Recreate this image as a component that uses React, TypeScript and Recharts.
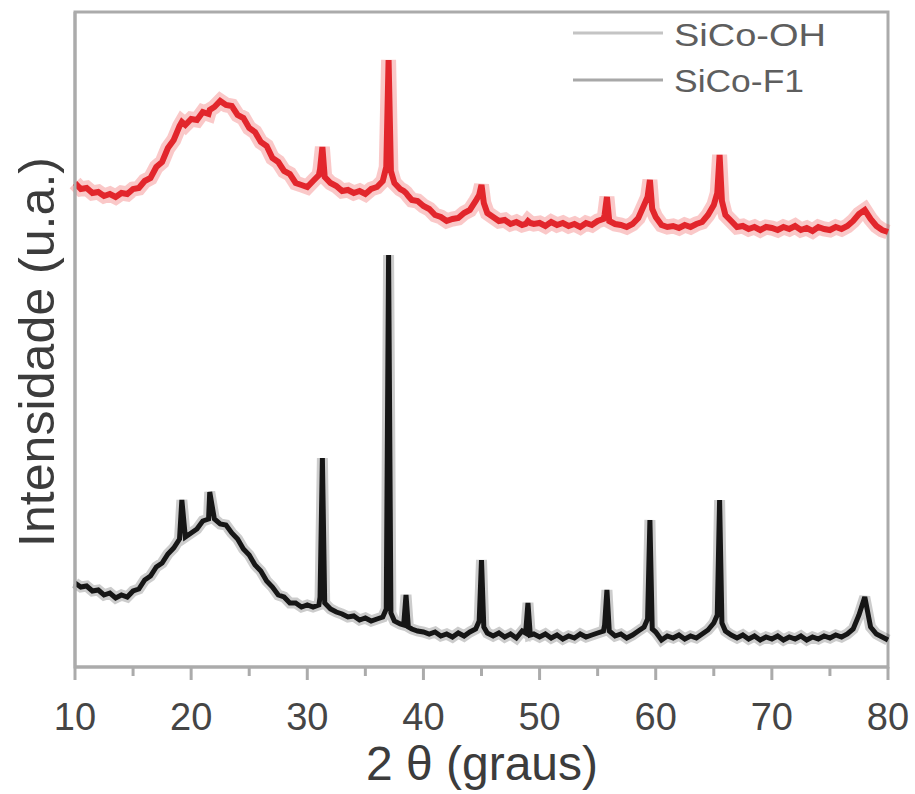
import { LineChart, Line, XAxis, YAxis, ReferenceArea } from 'recharts';

// 2θ positions (degrees)
const angles = [
  10, 10.5, 11, 11.5, 12, 12.5, 13, 13.5, 14, 14.5,
  15, 15.5, 16, 16.5, 17, 17.5, 18, 18.5, 19, 19.2,
  19.5, 20, 20.5, 21, 21.5, 21.6, 22, 22.5, 23, 23.5,
  24, 24.5, 25, 25.5, 26, 26.5, 27, 27.5, 28, 28.5,
  29, 29.5, 30, 30.5, 31, 31.1, 31.3, 31.5, 32, 32.5,
  33, 33.5, 34, 34.5, 35, 35.5, 36, 36.5, 36.8, 37,
  37.2, 37.5, 38, 38.3, 38.5, 38.7, 39, 39.5, 40, 40.5,
  41, 41.5, 42, 42.5, 43, 43.5, 44, 44.5, 44.8, 45,
  45.2, 45.5, 46, 46.5, 47, 47.5, 48, 48.5, 48.8, 49,
  49.2, 49.5, 50, 50.5, 51, 51.5, 52, 52.5, 53, 53.5,
  54, 54.5, 55, 55.5, 55.6, 55.8, 56, 56.5, 57, 57.5,
  58, 58.5, 59, 59.3, 59.5, 59.7, 60, 60.5, 61, 61.5,
  62, 62.5, 63, 63.5, 64, 64.5, 65, 65.3, 65.5, 65.7,
  66, 66.5, 67, 67.5, 68, 68.5, 69, 69.5, 70, 70.5,
  71, 71.5, 72, 72.5, 73, 73.5, 74, 74.5, 75, 75.5,
  76, 76.5, 77, 77.5, 78, 78.5, 79, 79.5, 80,
];

// SiCo-OH (red, offset trace)
const ohCounts = [
  484, 478, 479, 474, 475, 471, 473, 470, 474, 473,
  478, 479, 486, 489, 500, 505, 519, 527, 541, 545,
  542, 548, 547, 555, 553, 557, 560, 566, 562, 561,
  552, 549, 539, 535, 525, 521, 509, 505, 496, 493,
  484, 482, 480, 486, 492, 498, 520, 490, 484, 481,
  476, 477, 474, 476, 473, 478, 480, 486, 500, 607,
  496, 484, 478, 476, 474, 471, 467, 466, 461, 458,
  452, 450, 446, 448, 449, 454, 457, 466, 472, 482,
  464, 454, 450, 446, 447, 443, 445, 442, 443, 446,
  444, 443, 444, 441, 445, 442, 444, 441, 443, 440,
  444, 442, 446, 448, 452, 470, 446, 443, 442, 440,
  443, 449, 462, 470, 487, 458, 450, 442, 440, 441,
  439, 442, 440, 443, 445, 452, 462, 474, 512, 466,
  452, 446, 440, 441, 438, 440, 437, 440, 439, 437,
  440, 438, 441, 437, 439, 436, 440, 438, 437, 440,
  438, 441, 446, 453, 457, 448, 441, 437, 435,
];

// SiCo-F1 (black trace)
const f1Counts = [
  84, 80, 81, 76, 77, 72, 74, 69, 72, 70,
  76, 78, 87, 91, 100, 104, 113, 119, 128, 167,
  130, 134, 138, 146, 148, 175, 148, 143, 142, 134,
  128, 118, 112, 102, 96, 86, 80, 72, 70, 64,
  64, 60, 62, 60, 62, 70, 209, 64, 58, 55,
  53, 50, 51, 47, 49, 46, 48, 50, 58, 412,
  54, 46, 43, 42, 72, 40, 38, 36, 35, 33,
  35, 31, 33, 30, 34, 31, 35, 38, 46, 107,
  40, 34, 31, 34, 30, 33, 29, 36, 34, 64,
  32, 33, 30, 33, 29, 32, 28, 31, 29, 33,
  30, 32, 34, 36, 42, 77, 36, 31, 33, 29,
  32, 36, 40, 48, 147, 38, 35, 27, 31, 29,
  32, 28, 31, 29, 33, 37, 44, 52, 167, 44,
  36, 32, 29, 32, 28, 31, 27, 30, 28, 31,
  27, 30, 28, 31, 27, 30, 28, 31, 29, 32,
  30, 33, 38, 52, 70, 40, 33, 30, 27,
];

const xTicks = [10, 15, 20, 25, 30, 35, 40, 45, 50, 55, 60, 65, 70, 75, 80];

const seriesNames = ['SiCo-OH', 'SiCo-F1'];

const data = angles.map((a, i) => ({ angle: a, oh: ohCounts[i], f1: f1Counts[i] }));

const FONT = '"Liberation Sans", Arial, sans-serif';
const AXIS = '#ababab';

const AngleTick = (props: any) => {
  const { x, y, payload } = props;
  const major = payload.value % 10 === 0;
  return (
    <g>
      <line x1={x} x2={x} y1={y} y2={y + (major ? 13 : 9)} stroke={AXIS} strokeWidth={3} />
      {major && (
        <text x={x} y={y + 63} textAnchor="middle" fontSize={38} fill="#454545" fontFamily={FONT}>
          {payload.value}
        </text>
      )}
    </g>
  );
};

const YTitle = () => {
  const cy = 352;
  const cx = 54;
  return (
    <text
      x={cx}
      y={cy}
      transform={`rotate(-90 ${cx} ${cy})`}
      textAnchor="middle"
      fontSize={50}
      fill="#3c3c3c"
      fontFamily={FONT}
      textLength={390}
      lengthAdjust="spacingAndGlyphs"
    >
      Intensidade (u.a.)
    </text>
  );
};

const XTitle = () => (
  <text x={482} y={780} textAnchor="middle" fontSize={48} fill="#3c3c3c" fontFamily={FONT}>
    2 θ (graus)
  </text>
);

const LegendBox = () => (
  <svg width={300} height={110} style={{ position: 'absolute', left: 560, top: 0 }}>
    <line x1={13} x2={103} y1={33} y2={33} stroke="#c4c4c4" strokeWidth={3} />
    <text x={114} y={46} fontSize={32} fill="#5e5e5e" fontFamily={FONT} textLength={152} lengthAdjust="spacingAndGlyphs">
      {seriesNames[0]}
    </text>
    <line x1={13} x2={103} y1={80} y2={80} stroke="#a8a8a8" strokeWidth={3} />
    <text x={114} y={92} fontSize={32} fill="#5e5e5e" fontFamily={FONT} textLength={130} lengthAdjust="spacingAndGlyphs">
      {seriesNames[1]}
    </text>
  </svg>
);

export default function App() {
  return (
    <div style={{ position: 'absolute', left: 0, top: 0, width: 915, height: 794, background: '#fff' }}>
      <LineChart width={915} height={794} data={data} margin={{ top: 12, right: 27, bottom: 67, left: 15 }}>
        <XAxis
          dataKey="angle"
          type="number"
          domain={[10, 80]}
          ticks={xTicks}
          interval={0}
          height={60}
          tickSize={0}
          tickMargin={0}
          tickLine={false}
          axisLine={{ stroke: AXIS, strokeWidth: 3 }}
          tick={<AngleTick />}
          label={<XTitle />}
        />
        <YAxis
          type="number"
          domain={[0, 655]}
          width={60}
          tick={false}
          tickLine={false}
          axisLine={{ stroke: AXIS, strokeWidth: 3 }}
          label={<YTitle />}
        />
        <ReferenceArea x1={10} x2={80} y1={0} y2={655} fill="none" stroke={AXIS} strokeWidth={3} />
        <Line dataKey="oh" type="linear" stroke="#f04848" strokeOpacity={0.3} strokeWidth={15} dot={false} isAnimationActive={false} />
        <Line dataKey="oh" name={seriesNames[0]} type="linear" stroke="#e2262c" strokeWidth={6} dot={false} isAnimationActive={false} />
        <Line dataKey="f1" type="linear" stroke="#000" strokeOpacity={0.2} strokeWidth={11} dot={false} isAnimationActive={false} />
        <Line dataKey="f1" name={seriesNames[1]} type="linear" stroke="#161616" strokeWidth={5} dot={false} isAnimationActive={false} />
      </LineChart>
      <LegendBox />
    </div>
  );
}
